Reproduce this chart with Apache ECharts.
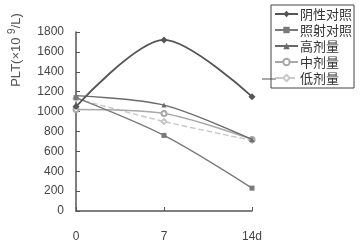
<!DOCTYPE html>
<html><head><meta charset="utf-8">
<script src="https://cdn.jsdelivr.net/npm/echarts@6/dist/echarts.min.js"></script>
<style>html,body{margin:0;padding:0;background:#fff}#c{width:362px;height:247px}</style>
</head><body><div id="c"></div>
<script>
const categories = ['0', '7', '14d'];
const yTicks = [0, 200, 400, 600, 800, 1000, 1200, 1400, 1600, 1800];
const seriesNames = ['阴性对照', '照射对照', '高剂量', '中剂量', '低剂量'];
const negControl = [1050, 1720, 1150];
const irrControl = [1140, 760, 230];
const highDose = [1160, 1065, 720];
const midDose = [1020, 980, 720];
const lowDose = [1130, 900, 710];

const values = [negControl, irrControl, highDose, midDose, lowDose];
const colors = ['#555', '#7a7a7a', '#6a6a6a', '#a8a8a8', '#c8c8c8'];
const symbols = ['diamond', 'rect', 'triangle', 'emptyCircle', 'emptyDiamond'];
const font = '"Noto Sans CJK SC", "Liberation Sans", sans-serif';

const chart = echarts.init(document.getElementById('c'));
chart.setOption({
  backgroundColor: '#fff',
  animation: false,
  grid: { left: 76, right: 110, top: 32, bottom: 36 },
  legend: {
    orient: 'vertical', left: 271, top: 5,
    width: 82,
    borderColor: '#444', borderWidth: 1,
    padding: [2, 2, 3, 3],
    itemWidth: 23, itemHeight: 8, itemGap: 2,
    textStyle: { fontFamily: font, fontSize: 13, lineHeight: 14, color: '#333', padding: [0, 0, 0, -3] },
    data: seriesNames
  },
  xAxis: {
    type: 'category', data: categories, boundaryGap: false,
    axisLine: { lineStyle: { color: '#555', width: 1.5 } },
    axisTick: { inside: true, length: 4, lineStyle: { color: '#555' } },
    axisLabel: { fontFamily: 'Liberation Sans, sans-serif', fontSize: 12, color: '#444', margin: 20 }
  },
  yAxis: {
    type: 'value', min: yTicks[0], max: yTicks[yTicks.length - 1], interval: 200,
    splitLine: { show: false },
    axisLine: { show: true, lineStyle: { color: '#555', width: 1.5 } },
    axisTick: { show: true, inside: true, length: 4, lineStyle: { color: '#555' } },
    axisLabel: { fontFamily: 'Liberation Sans, sans-serif', fontSize: 12, color: '#444', margin: 12,
      formatter: v => String(v) }
  },
  series: seriesNames.map((n, i) => ({
    name: n, type: 'line', smooth: 0.3, data: values[i],
    symbol: symbols[i], symbolSize: i === 0 ? 7 : 5,
    itemStyle: { color: colors[i] },
    lineStyle: { color: colors[i], width: i === 0 ? 1.8 : 1.4, type: i === 4 ? 'dashed' : 'solid' },
    z: 10 - i
  })),
  graphic: [
    { type: 'line', shape: { x1: 262, y1: 79, x2: 276, y2: 79 }, style: { stroke: '#555', lineWidth: 1 } },
    { type: 'text', x: 7, y: 50, rotation: Math.PI / 2,
      style: { text: '{a|PLT(×10 }{s|9}{a|/L)}', rich: {
        a: { fontFamily: 'Liberation Sans, sans-serif', fontSize: 13, fill: '#555' },
        s: { fontFamily: 'Liberation Sans, sans-serif', fontSize: 10, fill: '#555', verticalAlign: 'top', padding: [0, 0, 8, 0] }
      }, align: 'center', verticalAlign: 'top' } }
  ]
});
</script></body></html>
